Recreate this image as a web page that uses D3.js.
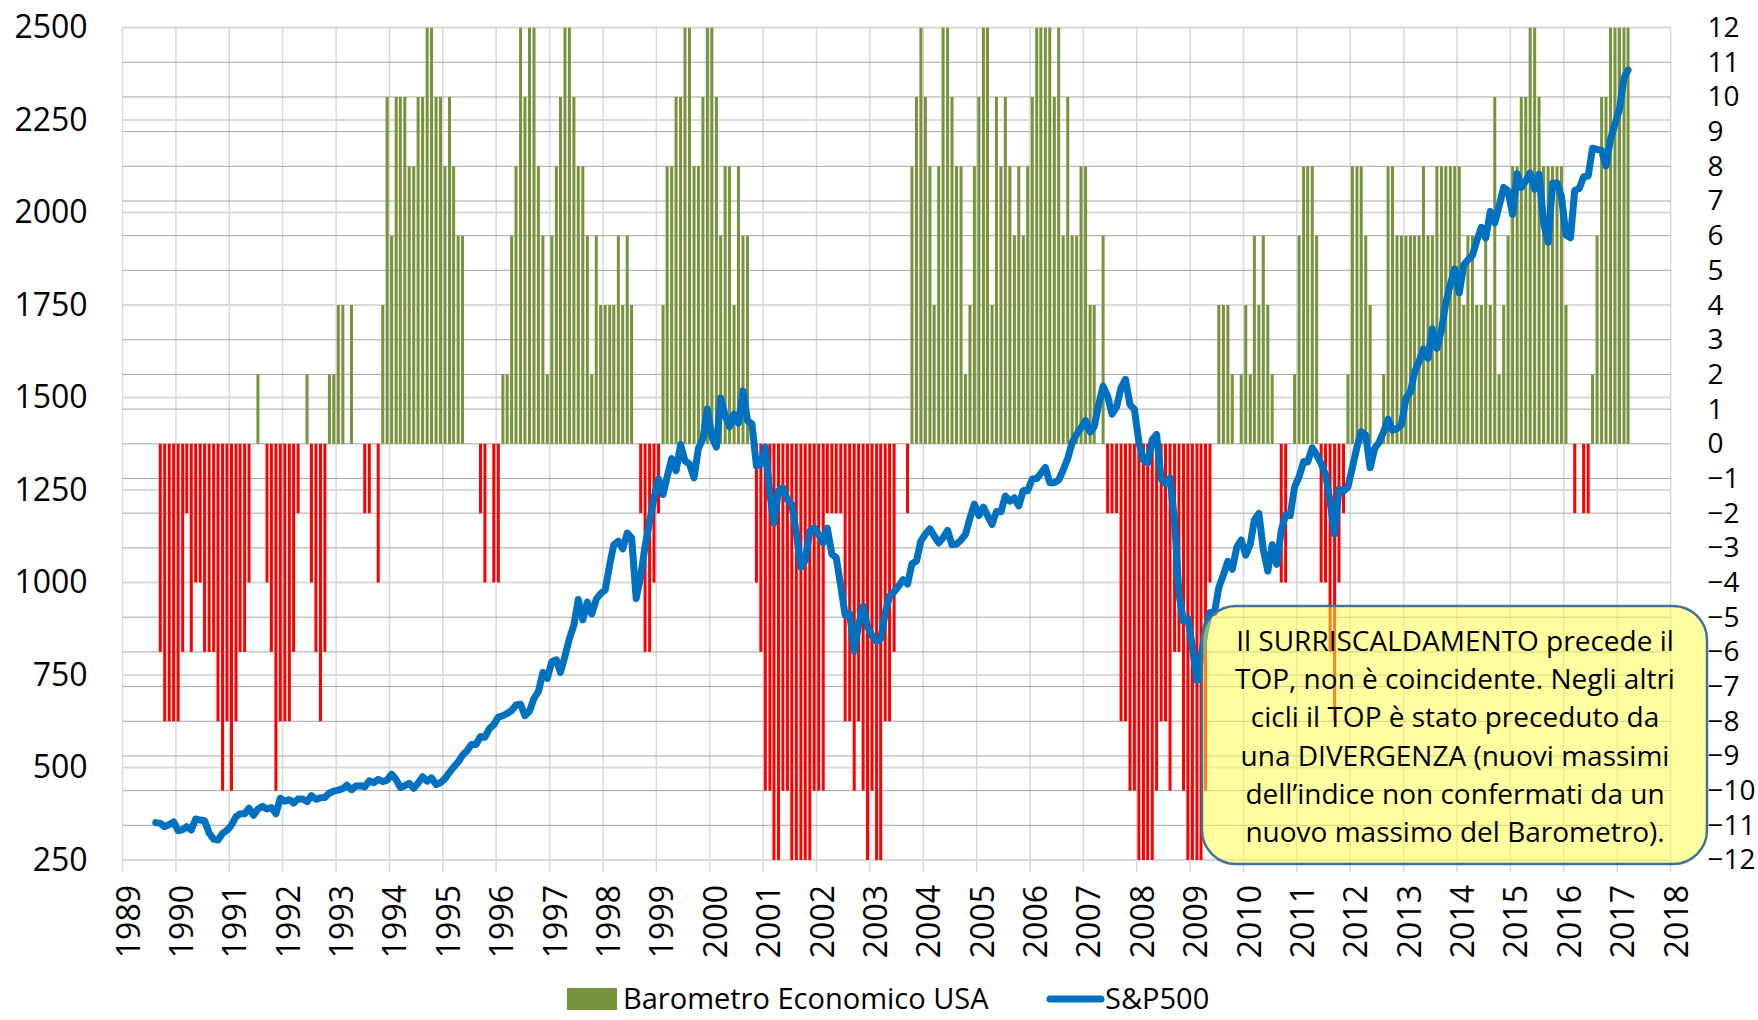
<!DOCTYPE html>
<html>
<head>
<meta charset="utf-8">
<title>Barometro Economico USA e S&amp;P500</title>
<script src="https://d3js.org/d3.v7.min.js"></script>
<style>
  body { margin: 0; background: #fff; }
  svg { display: block; font-family: "Open Sans", sans-serif; }
  .grid-r line { stroke: #a6a6a6; stroke-width: 1; }
  .grid-l line { stroke: #d9d9d9; stroke-width: 2; }
  .grid-x line { stroke: #d9d9d9; stroke-width: 1.5; }
  .axis text { fill: #000; }
  .note text { fill: #000; }
</style>
</head>
<body>
<svg width="1758" height="1020"></svg>
<script>
// serie mensili da agosto 1989 a marzo 2017
var startYear = 1989, startMonth = 7;

var barometro = [
  0, -6, -8, -8, -8, -8, -6, -2, -6, -4, -4, -6, -6, -6, -8, -10, -8, -10, -8, -6, -6, -4,
  0, 2, 0, -4, -6, -10, -8, -8, -8, -6, -2, 0, 2, -4, -6, -8, -6, 2, 2, 4, 4, 0, 4, 0, 0,
  -2, -2, 0, -4, 4, 10, 6, 10, 10, 10, 8, 8, 10, 10, 12, 12, 10, 10, 8, 10, 8, 6, 6,
  0, 0, 0, -2, -4, 0, -4, -4,
  2, 2, 6, 8, 12, 10, 12, 12, 8, 6, 2, 6, 8, 10, 12, 12, 10, 8, 8, 6, 2, 6, 4, 4, 4, 4, 6, 4, 6, 4,
  0, -2, -6, -6, -4, -2,
  4, 8, 8, 10, 10, 12, 12, 8, 8, 10, 12, 12, 10, 6, 8, 8, 4, 8, 6, 6,
  0, -4, -6, -10, -10, -12, -12, -10, -10, -12, -12, -12, -12, -12, -10, -10, -10, -2, -2, -2, -2,
  -8, -8, -10, -8, -10, -12, -10, -12, -12, -8, -8, -6, 0, 0, -2,
  8, 10, 12, 10, 8, 4, 8, 12, 12, 10, 8, 8, 2, 4, 8, 10, 12, 12, 4, 10, 8, 10, 8, 6,
  8, 6, 8, 10, 12, 12, 12, 12, 10, 12, 6, 10, 6, 6, 8, 8, 4, 4, 0, 6,
  -2, -2, -2, -8, -8, -10, -10, -12, -12, -12, -12, -10,
  -8, -8, -10, -6, -6, -10, -12, -12, -12, -12, -10, -4, 0,
  4, 4, 4, 2, 0, 2, 4, 2, 6, 4, 6, 4, 2, 0, -4, -4, 0, 2, 6,
  8, 8, 8, 6, -4, -4, -6, -8, -4, -2, 2, 8, 8, 8, 6, 4, 0, 0,
  2, 8, 8, 6, 6, 6, 6, 6, 6, 8, 6, 6, 8, 8,
  8, 8, 8, 8, 4, 6, 6, 4, 4, 6, 4, 10, 2, 4, 6, 8, 8, 10, 10, 12, 12, 10, 8, 8, 8, 8, 8, 4,
  0, -2, 0, -2, -2, 2, 6, 10, 10, 12, 12, 12, 12, 12
];

var sp500 = [
  351, 349, 340, 346, 353,
  329, 332, 340, 331, 361, 358, 356, 323, 306, 304, 322, 330,
  344, 367, 375, 375, 390, 371, 388, 395, 388, 392, 375, 417,
  409, 413, 404, 415, 415, 408, 424, 414, 418, 419, 431, 436,
  439, 443, 452, 440, 450, 451, 448, 464, 459, 468, 462, 466,
  482, 467, 446, 451, 457, 444, 458, 475, 463, 472, 454, 459,
  470, 487, 501, 515, 533, 545, 562, 562, 584, 582, 605, 616,
  636, 640, 646, 654, 669, 671, 640, 652, 687, 705, 757, 741,
  786, 791, 757, 801, 848, 885, 954, 899, 947, 915, 955, 970,
  980, 1049, 1102, 1112, 1091, 1134, 1121, 957, 1017, 1099, 1164, 1229,
  1280, 1238, 1286, 1335, 1302, 1373, 1329, 1320, 1283, 1363, 1389, 1469,
  1394, 1366, 1499, 1452, 1421, 1455, 1431, 1518, 1437, 1429, 1315, 1320,
  1366, 1240, 1160, 1249, 1256, 1224, 1211, 1134, 1041, 1060, 1139, 1148,
  1130, 1107, 1147, 1077, 1067, 990, 912, 916, 815, 886, 936, 880,
  856, 841, 848, 917, 964, 975, 990, 1008, 996, 1051, 1058, 1112,
  1131, 1145, 1126, 1107, 1121, 1141, 1102, 1104, 1115, 1130, 1174, 1212,
  1181, 1204, 1181, 1157, 1192, 1191, 1234, 1220, 1229, 1207, 1249, 1248,
  1280, 1281, 1295, 1311, 1270, 1270, 1277, 1304, 1336, 1378, 1401, 1418,
  1438, 1407, 1421, 1482, 1531, 1503, 1455, 1474, 1527, 1549, 1481, 1468,
  1379, 1331, 1323, 1386, 1400, 1280, 1267, 1283, 1166, 969, 896, 903,
  826, 735, 798, 873, 919, 919, 987, 1021, 1057, 1036, 1096, 1115,
  1074, 1104, 1169, 1187, 1089, 1031, 1102, 1049, 1141, 1183, 1181, 1258,
  1286, 1327, 1326, 1364, 1345, 1321, 1292, 1219, 1131, 1253, 1247, 1258,
  1312, 1366, 1408, 1398, 1310, 1362, 1379, 1407, 1441, 1412, 1416, 1426,
  1498, 1515, 1569, 1598, 1631, 1606, 1686, 1633, 1682, 1757, 1806, 1848,
  1783, 1859, 1872, 1884, 1924, 1960, 1931, 2003, 1972, 2018, 2068, 2059,
  1995, 2105, 2068, 2086, 2107, 2063, 2104, 1972, 1920, 2079, 2080, 2044,
  1940, 1932, 2060, 2065, 2097, 2099, 2174, 2171, 2168, 2126, 2199, 2239,
  2279, 2364, 2385
];

var leftTicks = [250, 500, 750, 1000, 1250, 1500, 1750, 2000, 2250, 2500];
var rightTicks = [-12, -11, -10, -9, -8, -7, -6, -5, -4, -3, -2, -1, 0,
                  1, 2, 3, 4, 5, 6, 7, 8, 9, 10, 11, 12];
var yearTicks = d3.range(1989, 2019);
var legendLabels = ["Barometro Economico USA", "S&P500"];
var noteLines = [
  "Il SURRISCALDAMENTO precede il",
  "TOP, non è coincidente. Negli altri",
  "cicli il TOP è stato preceduto da",
  "una DIVERGENZA (nuovi massimi",
  "dell\u2019indice non confermati da un",
  "nuovo massimo del Barometro)."
];

var plotLeft = 122.6, plotRight = 1670.6, plotTop = 27.6, plotBottom = 860;
var green = "#77933C", red = "#FF0000", blue = "#0070C0";

var svg = d3.select("svg");

function monthDate(i) { return new Date(startYear, startMonth + i, 16); }

var x = d3.scaleTime()
    .domain([new Date(1989, 0, 1), new Date(2018, 0, 1)])
    .range([plotLeft, plotRight]);
var yL = d3.scaleLinear().domain([250, 2500]).range([plotBottom, plotTop]);
var yR = d3.scaleLinear().domain([-12, 12]).range([plotBottom, plotTop]);

// griglia
svg.append("g").attr("class", "grid-x")
  .selectAll("line").data(yearTicks).enter().append("line")
    .attr("x1", function(d) { return x(new Date(d, 0, 1)); })
    .attr("x2", function(d) { return x(new Date(d, 0, 1)); })
    .attr("y1", plotTop).attr("y2", plotBottom + 12);

svg.append("g").attr("class", "grid-r")
  .selectAll("line").data(rightTicks).enter().append("line")
    .attr("x1", plotLeft).attr("x2", plotRight)
    .attr("y1", function(d) { return yR(d); })
    .attr("y2", function(d) { return yR(d); });

svg.append("g").attr("class", "grid-l")
  .selectAll("line").data(leftTicks).enter().append("line")
    .attr("x1", plotLeft).attr("x2", plotRight)
    .attr("y1", function(d) { return yL(d); })
    .attr("y2", function(d) { return yL(d); });

// barre del barometro
var bars = barometro.map(function(v, i) { return {date: monthDate(i), value: v}; })
    .filter(function(d) { return d.value !== 0; });
var barW = 3;

svg.append("g").selectAll("rect").data(bars).enter().append("rect")
    .attr("x", function(d) { return x(d.date) - barW / 2; })
    .attr("width", barW)
    .attr("y", function(d) { return yR(Math.max(0, d.value)); })
    .attr("height", function(d) { return Math.abs(yR(d.value) - yR(0)); })
    .attr("fill", function(d) { return d.value > 0 ? green : red; });

// linea S&P500
var line = d3.line()
    .x(function(d, i) { return x(monthDate(i)); })
    .y(function(d) { return yL(d); });

svg.append("path")
    .datum(sp500)
    .attr("d", line)
    .attr("fill", "none")
    .attr("stroke", blue)
    .attr("stroke-width", 7)
    .attr("stroke-linejoin", "round")
    .attr("stroke-linecap", "round");

// assi
var gL = svg.append("g").attr("class", "axis")
    .attr("transform", "translate(" + plotLeft + ",0)")
    .call(d3.axisLeft(yL).tickValues(leftTicks).tickFormat(d3.format("d"))
      .tickSize(0).tickPadding(35));
gL.select(".domain").remove();
gL.attr("font-size", 32).attr("font-family", "Open Sans, sans-serif");

var gR = svg.append("g").attr("class", "axis")
    .attr("transform", "translate(" + plotRight + ",0)")
    .call(d3.axisRight(yR).tickValues(rightTicks).tickSize(0).tickPadding(37));
gR.select(".domain").remove();
gR.attr("font-size", 28).attr("font-family", "Open Sans, sans-serif");

var gX = svg.append("g").attr("class", "axis")
    .attr("transform", "translate(0," + plotBottom + ")")
    .call(d3.axisBottom(x)
      .tickValues(yearTicks.map(function(y) { return new Date(y, 0, 1); }))
      .tickFormat(d3.timeFormat("%Y"))
      .tickSize(0));
gX.select(".domain").remove();
gX.attr("font-size", 32).attr("font-family", "Open Sans, sans-serif");
gX.selectAll("text")
    .attr("x", 0).attr("y", 0).attr("dy", "0.36em")
    .attr("text-anchor", "end")
    .attr("transform", "translate(5,25) rotate(-90)");

// riquadro di commento
var note = svg.append("g").attr("class", "note");
note.append("rect")
    .attr("x", 1202).attr("y", 606)
    .attr("width", 505).attr("height", 258)
    .attr("rx", 34).attr("ry", 34)
    .attr("fill", "#ffff40").attr("fill-opacity", 0.5)
    .attr("stroke", "#41719C").attr("stroke-width", 2.5);
note.selectAll("text").data(noteLines).enter().append("text")
    .attr("x", 1455)
    .attr("y", function(d, i) { return 641 + i * 38.3; })
    .attr("dy", "0.35em")
    .attr("text-anchor", "middle")
    .attr("font-size", 28)
    .text(function(d) { return d; });

// legenda
var legY = 999;
var leg = svg.append("g").attr("font-size", 29);
leg.append("rect").attr("x", 567).attr("y", legY - 11).attr("width", 50).attr("height", 22).attr("fill", green);
leg.append("text").attr("x", 623).attr("y", legY).attr("dy", "0.35em").text(legendLabels[0]);
leg.append("line").attr("x1", 1050).attr("x2", 1101).attr("y1", legY).attr("y2", legY)
    .attr("stroke", blue).attr("stroke-width", 7).attr("stroke-linecap", "round");
leg.append("text").attr("x", 1105).attr("y", legY).attr("dy", "0.35em").text(legendLabels[1]);
</script>
</body>
</html>
